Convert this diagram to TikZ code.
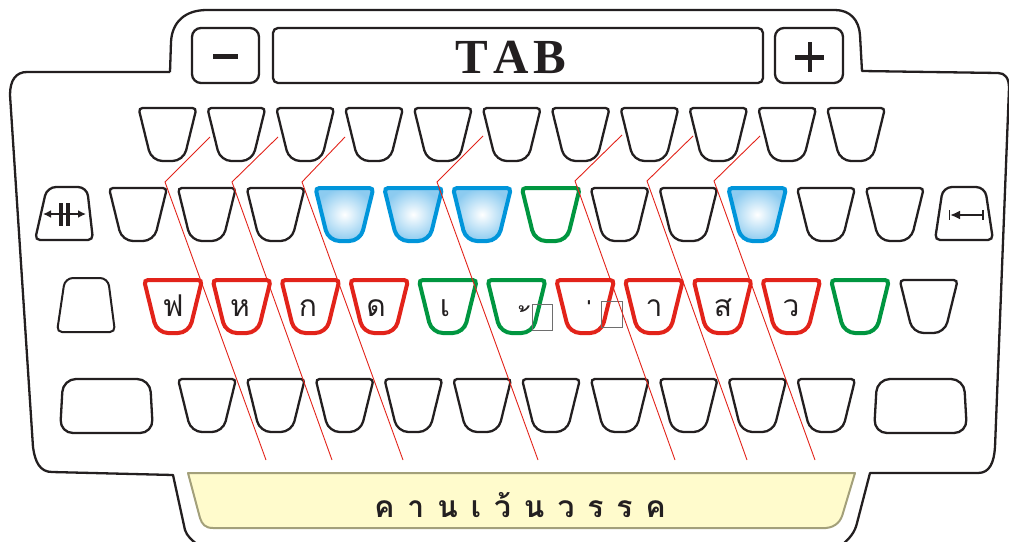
\documentclass[tikz,border=0pt]{standalone}
\usepackage{fontspec}
\setmainfont{Liberation Serif}
\newfontfamily\thaifont[Script=Thai]{Loma}
\newfontfamily\thaimark{Loma}
\usetikzlibrary{arrows.meta}
\definecolor{kblack}{HTML}{231F20}
\definecolor{kred}{HTML}{E2231A}
\definecolor{kgreen}{HTML}{009640}
\definecolor{kblue}{HTML}{0095DA}
\definecolor{kbluefill}{HTML}{8CCBF0}
\definecolor{barfill}{HTML}{FFFBCC}
\definecolor{barline}{HTML}{A3A07A}
\definecolor{boxgray}{HTML}{6E6E6E}
\newcommand{\kkey}[3]{%
  \path[#3] (#1,#2) [rounded corners=4pt] -- ++(29,0) [rounded corners=11pt] -- ++(-13,53) -- ++(-32,0) [rounded corners=4pt] -- ++(-13,-53) -- cycle;}
\tikzset{
  frame/.style={draw=kblack, line width=2.3pt, line join=round},
  plainkey/.style={draw=kblack, line width=2.3pt, fill=white},
  thinkey/.style={draw=kblack, line width=2pt, fill=white},
  redkey/.style={draw=kred, line width=4pt, fill=white},
  greenkey/.style={draw=kgreen, line width=4pt, fill=white},
  bluekey/.style={draw=kblue, line width=4pt, inner color=white, outer color=kbluefill},
  zone/.style={draw=kred, line width=0.9pt},
  thailbl/.style={font=\thaifont\fontsize{30}{30}\selectfont, text=kblack, anchor=base, inner sep=0pt},
  marklbl/.style={font=\thaimark\fontsize{30}{30}\selectfont, text=kblack, anchor=base east, inner sep=0pt},
}
\begin{document}
\begin{tikzpicture}[x=1pt,y=-1pt]
\useasboundingbox (0,0) rectangle (1009,541);
% outer frame
\draw[frame] (170,72) -- (171,42) .. controls (172,22) and (185,10) .. (207,10) -- (835,10)
  .. controls (850,10) and (859,20) .. (860,35) -- (862,71) -- (998,73)
  .. controls (1005,73) and (1009,78) .. (1009,88) -- (995,447)
  .. controls (994,462) and (990,473) .. (978,473) -- (870,473) -- (857,523)
  .. controls (855,532) and (850,538) .. (842,545);
\draw[frame] (170,72) -- (27,72) .. controls (16,72) and (10,80) .. (10,95) -- (33,447)
  .. controls (35,462) and (40,472) .. (52,472) -- (173,475) -- (185,530)
  .. controls (187,536) and (192,541) .. (200,546);
% top keys
\draw[plainkey, rounded corners=9pt] (192,28) rectangle (259,83);
\fill[kblack] (213,54) rectangle (238,59);
\draw[plainkey, rounded corners=5pt] (273,28) rectangle (763,83);
\node[font=\bfseries\fontsize{49}{49}\selectfont, text=kblack, anchor=base, inner sep=0pt] (tab) at (511,73) {T\hspace{5pt}A\hspace{5pt}B};
\draw[plainkey, rounded corners=9pt] (775,28) rectangle (843,83);
\fill[kblack] (795,55) rectangle (824,59.5);
\fill[kblack] (807.5,42) rectangle (811.5,72);
% row 1
\foreach \i in {0,...,10} {\pgfmathsetmacro\cx{167.5+68.85*\i}\kkey{\cx}{108}{plainkey}}
% row 2
\draw[plainkey] (67,187) [rounded corners=9pt] -- (87,187) [rounded corners=5pt] -- (93,240) -- (35,240) [rounded corners=9pt] -- (47,187) -- cycle;
\draw[kblack, line width=2pt, {Latex[length=8pt,width=8pt]}-{Latex[length=8pt,width=8pt]}] (43,214) -- (86,214);
\draw[kblack, line width=3.5pt] (61,203) -- (61,226) (68,203) -- (68,226);
\foreach \i/\s in {0/plainkey,1/plainkey,2/plainkey,3/bluekey,4/bluekey,5/bluekey,6/greenkey,7/plainkey,8/plainkey,9/bluekey,10/plainkey,11/plainkey}
  {\pgfmathsetmacro\cx{138+68.8*\i}\kkey{\cx}{188}{\s}}
\draw[plainkey] (964,187) [rounded corners=9pt] -- (985,187) [rounded corners=5pt] -- (993,240) -- (935,240) [rounded corners=9pt] -- (943,187) -- cycle;
\draw[kblack, line width=2.6pt, {Latex[length=10pt,width=9pt]}-] (950,215) -- (983,215);
\draw[kblack, line width=1.6pt] (949.5,210) -- (949.5,220) (983,210) -- (983,220);
% row 3
\draw[thinkey] (86,278) [rounded corners=8pt] -- (108,278) [rounded corners=5pt] -- (115,332) -- (57,332) [rounded corners=8pt] -- (65,278) -- cycle;
\foreach \i/\s in {0/redkey,1/redkey,2/redkey,3/redkey,4/greenkey,5/greenkey,6/redkey,7/redkey,8/redkey,9/redkey,10/greenkey,11/plainkey}
  {\pgfmathsetmacro\cx{173+68.7*\i}\kkey{\cx}{280}{\s}}
\node[thailbl] (k1) at (173,316) {ฟ};
\node[thailbl] (k2) at (240,316) {ห};
\node[thailbl] (k3) at (308,316) {ก};
\node[thailbl] (k4) at (376,316) {ด};
\node[thailbl] (k5) at (445,316) {เ};
\node[marklbl] (k6) at (529,337) {\hspace{12pt}้};
\node[marklbl] (k7) at (593,331) {\hspace{8pt}่};
\node[thailbl] (k8) at (654,316) {า};
\node[thailbl] (k9) at (723,316) {ส};
\node[thailbl] (k10) at (791,316) {ว};
\draw[boxgray, line width=0.8pt] (532,304) rectangle (552,330);
\draw[boxgray, line width=0.8pt] (601,301) rectangle (622,327);
% row 4
\draw[plainkey, rounded corners=13pt] (106,379) -- (150,379) -- (153,433) -- (60,433) -- (63,379) -- cycle;
\foreach \i in {0,...,9} {\pgfmathsetmacro\cx{207+68.8*\i}\kkey{\cx}{379}{plainkey}}
\draw[plainkey, rounded corners=13pt] (920,379) -- (964,379) -- (967,433) -- (874,433) -- (877,379) -- cycle;
% finger zones
\draw[zone] (210,137) -- (165,182) -- (266,460);
\draw[zone] (278,137) -- (232,182) -- (332,460);
\draw[zone] (345,137) -- (302,182) -- (403,460);
\draw[zone] (483,136) -- (437,182) -- (538,460);
\draw[zone] (622,135) -- (575,181) -- (675,460);
\draw[zone] (693,136) -- (647,181) -- (747,460);
\draw[zone] (760,136) -- (714,181) -- (815,460);
% space bar
\draw[draw=barline, fill=barfill, line width=2pt, line join=round] (188,473) -- (855,473) -- (843,513)
  .. controls (841,521) and (836,527) .. (826,528) -- (213,528) .. controls (205,528) and (202,524) .. (200,518) -- cycle;
\node[thailbl, font=\thaifont\bfseries\fontsize{30}{30}\selectfont] (space) at (520,517) {ค\hspace{13pt}า\hspace{13pt}น\hspace{13pt}เ\hspace{13pt}ว้\hspace{13pt}น\hspace{13pt}ว\hspace{13pt}ร\hspace{13pt}ร\hspace{13pt}ค};
\end{tikzpicture}
\end{document}
